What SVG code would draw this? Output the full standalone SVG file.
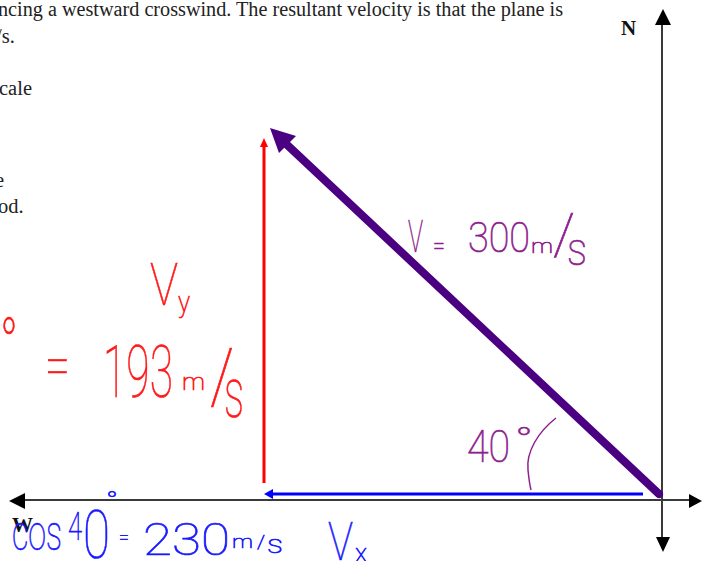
<svg xmlns="http://www.w3.org/2000/svg" width="702" height="561" viewBox="0 0 702 561">
<style>
.doc{font-family:"Liberation Serif","Times New Roman",serif;font-size:20.5px;fill:#222}
.lbl{font-family:"Liberation Serif","Times New Roman",serif;font-size:21px;font-weight:bold;fill:#111}
.hw{font-family:Roboto,"Liberation Sans",sans-serif;font-weight:100;stroke-width:0.7px}
.pu{fill:#8e1f8e;stroke:#8e1f8e}
.rd{fill:#ff1a1a;stroke:#ff1a1a}
.bl{fill:#1a1aff;stroke:#1a1aff}
.axis{stroke:#3a3a3a;stroke-width:2;fill:none}
</style>
<rect width="702" height="561" fill="#fff"/>
<g id="document-text">
<text class="doc" x="-2" y="16" textLength="565" lengthAdjust="spacingAndGlyphs">ncing a westward crosswind. The resultant velocity is that the plane is</text>
<text class="doc" x="-4" y="43">/s.</text>
<text class="doc" x="-1" y="95">cale</text>
<text class="doc" x="-5" y="187">e</text>
<text class="doc" x="-2" y="213">od.</text>
</g>
<g id="axes">
<line class="axis" x1="25" y1="500" x2="689" y2="500"/>
<line class="axis" x1="662" y1="25" x2="662" y2="538"/>
<polygon points="663,9 655,25 671,25" fill="#000"/>
<polygon points="663,552 656,537 670,537" fill="#000"/>
<polygon points="702,501 689,494 689,508" fill="#000"/>
<polygon points="9,501 25,493 25,509" fill="#000"/>
</g>
<g id="node-N"><text class="lbl" x="621" y="35">N</text></g>
<g id="node-W"><text class="lbl" x="12" y="532">W</text></g>
<g id="connectors">
<line x1="659" y1="494" x2="283" y2="141" stroke="#4b0082" stroke-width="8" stroke-linecap="round"/>
<polygon points="270,128 296,136 288,144 279,153" fill="#4b0082"/>
<line x1="264" y1="483" x2="264" y2="144" stroke="#ff0000" stroke-width="3"/>
<polygon points="264,138 260,147 268,147" fill="#ff0000"/>
<line x1="643" y1="494" x2="271" y2="494" stroke="#0000ff" stroke-width="3"/>
<polygon points="264,494 273,489 273,499" fill="#0000ff"/>
<path d="M556,418 C538,432 526,452 528,470 C529,480 530,486 531,490" fill="none" stroke="#8e1f8e" stroke-width="1.5"/>
</g>
<g id="label-V">
<text class="hw pu" x="408" y="252" font-size="45" textLength="15" lengthAdjust="spacingAndGlyphs">V</text>
<text class="hw pu" x="433" y="254" font-size="26" textLength="12" lengthAdjust="spacingAndGlyphs">=</text>
<text class="hw pu" x="468" y="252" font-size="42" textLength="62" lengthAdjust="spacingAndGlyphs">300</text>
<text class="hw pu" x="531" y="253" font-size="21" textLength="22" lengthAdjust="spacingAndGlyphs">m</text>
<text class="hw pu" x="553" y="254" font-size="57" textLength="22" lengthAdjust="spacingAndGlyphs">/</text>
<text class="hw pu" x="567" y="265" font-size="47" textLength="20" lengthAdjust="spacingAndGlyphs">s</text>
</g>
<g id="label-angle">
<text class="hw pu" x="467" y="462" font-size="45" textLength="43" lengthAdjust="spacingAndGlyphs">40</text>
<text class="hw pu" x="515" y="452" font-size="35" textLength="18" lengthAdjust="spacingAndGlyphs">°</text>
</g>
<g id="label-Vy">
<text class="hw rd" x="150" y="305" font-size="59" textLength="28" lengthAdjust="spacingAndGlyphs">V</text>
<text class="hw rd" x="178" y="312" font-size="30" textLength="12" lengthAdjust="spacingAndGlyphs">y</text>
<text class="hw rd" x="0" y="368" font-size="70" textLength="18" lengthAdjust="spacingAndGlyphs">°</text>
<text class="hw rd" x="45" y="386" font-size="60" textLength="25" lengthAdjust="spacingAndGlyphs">=</text>
<text class="hw rd" x="103" y="397" font-size="73" textLength="70" lengthAdjust="spacingAndGlyphs">193</text>
<text class="hw rd" x="182" y="390" font-size="23" textLength="23" lengthAdjust="spacingAndGlyphs">m</text>
<text class="hw rd" x="210" y="402" font-size="76" textLength="24" lengthAdjust="spacingAndGlyphs">/</text>
<text class="hw rd" x="224" y="417" font-size="70" textLength="20" lengthAdjust="spacingAndGlyphs">s</text>
</g>
<g id="label-Vx">
<text class="hw bl" x="12" y="550" font-size="50" textLength="50" lengthAdjust="spacingAndGlyphs">cos</text>
<text class="hw bl" x="68" y="540" font-size="38" textLength="14" lengthAdjust="spacingAndGlyphs">4</text>
<text class="hw bl" x="83" y="558" font-size="67" textLength="27" lengthAdjust="spacingAndGlyphs">0</text>
<text class="hw bl" x="106" y="509" font-size="24" textLength="12" lengthAdjust="spacingAndGlyphs">°</text>
<text class="hw bl" x="119" y="544" font-size="20" textLength="10" lengthAdjust="spacingAndGlyphs">=</text>
<text class="hw bl" x="143" y="555" font-size="45" textLength="87" lengthAdjust="spacingAndGlyphs">230</text>
<text class="hw bl" x="232" y="548" font-size="19" textLength="21" lengthAdjust="spacingAndGlyphs">m</text>
<text class="hw bl" x="257" y="548" font-size="19" textLength="8" lengthAdjust="spacingAndGlyphs">/</text>
<text class="hw bl" x="267" y="553" font-size="25" textLength="16" lengthAdjust="spacingAndGlyphs">s</text>
<text class="hw bl" x="328" y="560" font-size="53" textLength="25" lengthAdjust="spacingAndGlyphs">V</text>
<text class="hw bl" x="355" y="562" font-size="26" textLength="12" lengthAdjust="spacingAndGlyphs">x</text>
</g>
</svg>
